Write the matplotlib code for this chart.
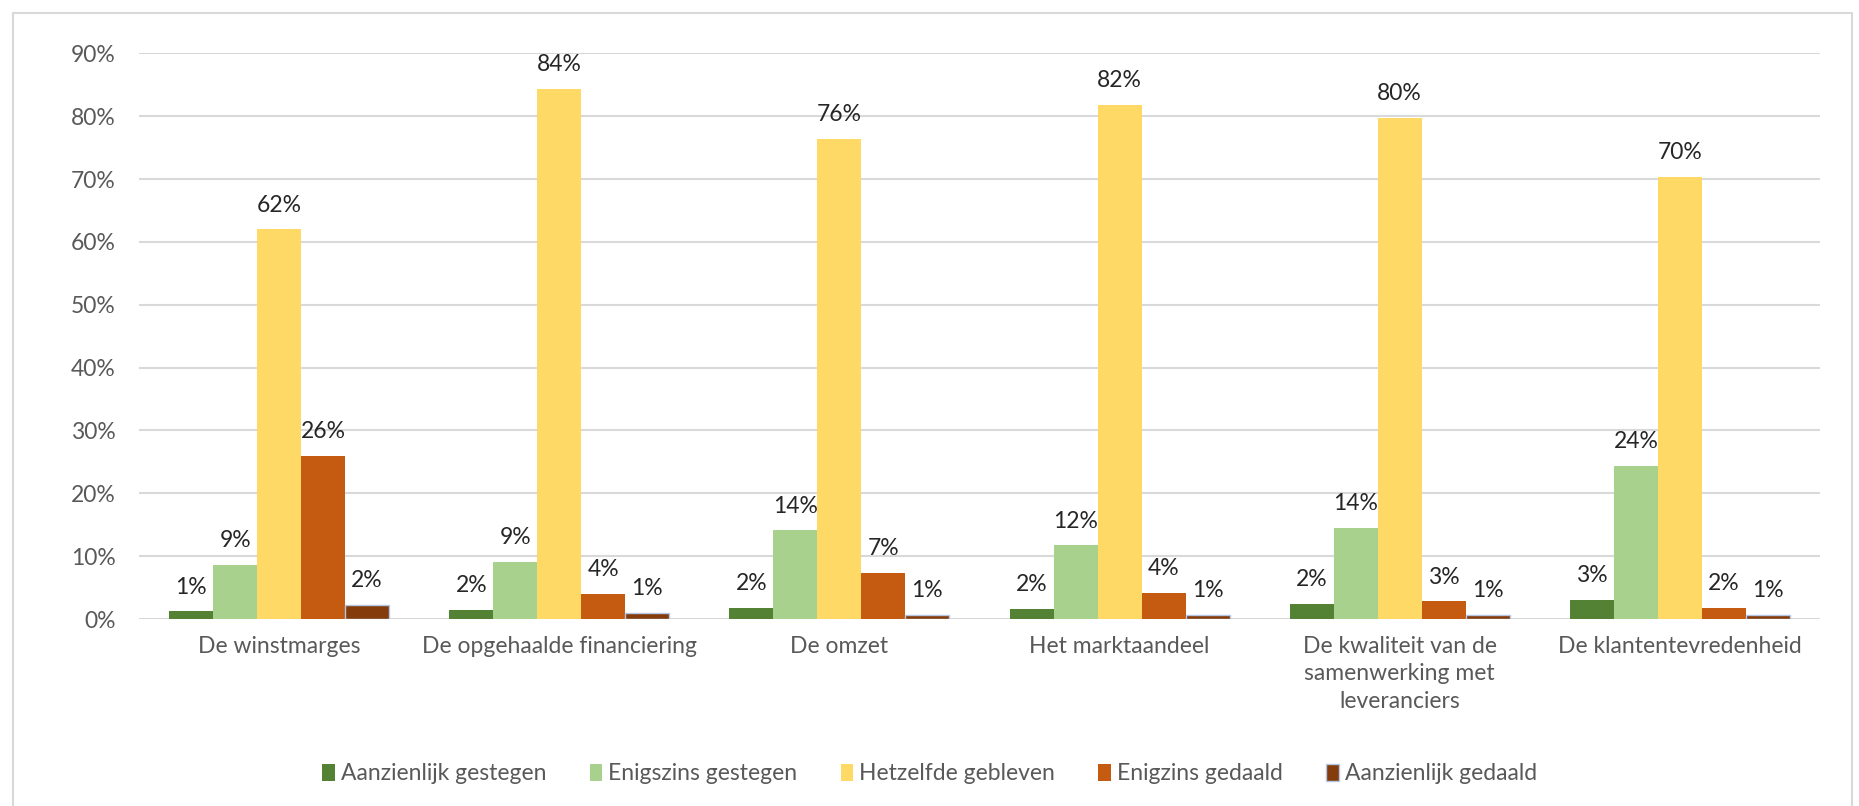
import matplotlib.pyplot as plt
import numpy as np
from matplotlib.patches import Rectangle

plt.rcParams["font.family"] = ["Lato", "DejaVu Sans"]

categories = [
    "De winstmarges",
    "De opgehaalde financiering",
    "De omzet",
    "Het marktaandeel",
    "De kwaliteit van de\nsamenwerking met\nleveranciers",
    "De klantentevredenheid",
]
series_names = [
    "Aanzienlijk gestegen",
    "Enigszins gestegen",
    "Hetzelfde gebleven",
    "Enigzins gedaald",
    "Aanzienlijk gedaald",
]
aanzienlijk_gestegen = [1.2, 1.5, 1.7, 1.6, 2.4, 3.0]
enigszins_gestegen = [8.6, 9.1, 14.1, 11.7, 14.5, 24.3]
hetzelfde_gebleven = [62.0, 84.4, 76.4, 81.8, 79.8, 70.3]
enigzins_gedaald = [26.0, 4.0, 7.4, 4.1, 2.8, 1.8]
aanzienlijk_gedaald = [2.3, 1.0, 0.6, 0.7, 0.6, 0.6]
series_values = [
    aanzienlijk_gestegen,
    enigszins_gestegen,
    hetzelfde_gebleven,
    enigzins_gedaald,
    aanzienlijk_gedaald,
]
series_labels = [
    ["1%", "2%", "2%", "2%", "2%", "3%"],
    ["9%", "9%", "14%", "12%", "14%", "24%"],
    ["62%", "84%", "76%", "82%", "80%", "70%"],
    ["26%", "4%", "7%", "4%", "3%", "2%"],
    ["2%", "1%", "1%", "1%", "1%", "1%"],
]
colors = ["#548235", "#A9D18E", "#FFD966", "#C55A11", "#843C0C"]
yticks = list(range(0, 100, 10))

fig = plt.figure(figsize=(18.59, 8.06), dpi=100)
ax = fig.add_axes([0.0748, 0.232, 0.9042, 0.7017])

# outer chart border
fig.patches.append(
    Rectangle((13 / 1859, -0.01), 1 - 20 / 1859, 1 - 13 / 806 + 0.01,
              transform=fig.transFigure, fill=False, edgecolor="#D9D9D9",
              linewidth=1.5)
)

x = np.arange(len(categories))
width = 0.157
for i, (name, vals, labs, col) in enumerate(
        zip(series_names, series_values, series_labels, colors)):
    pos = x + (i - 2) * width
    edge = "#B4C7E7" if i == 4 else "none"
    ax.bar(pos, vals, width, color=col, edgecolor=edge, linewidth=1,
           label=name, zorder=3)
    for px, v, lab in zip(pos, vals, labs):
        ax.annotate(lab, (px, v), xytext=(0, 10), textcoords="offset points",
                    ha="center", va="bottom", fontsize=16.5, color="#262626")

ax.set_xlim(-0.5, len(categories) - 0.5)
ax.set_ylim(0, 90)
ax.set_yticks(yticks)
ax.set_yticklabels([f"{t}%" for t in yticks])
ax.set_xticks(x)
ax.set_xticklabels(categories, linespacing=1.4)
ax.grid(axis="y", color="#D9D9D9", linewidth=1.5, zorder=0)
ax.tick_params(axis="y", length=0, pad=17, labelsize=16.5, labelcolor="#595959")
ax.tick_params(axis="x", length=0, pad=12, labelsize=16.5, labelcolor="#595959")
for s in ax.spines.values():
    s.set_visible(False)

ax.legend(loc="center", bbox_to_anchor=(0.5, (806 - 774) / 806),
          bbox_transform=fig.transFigure, ncol=5, frameon=False,
          fontsize=16.5, labelcolor="#595959", handlelength=0.55,
          handleheight=0.75, handletextpad=0.25, columnspacing=1.9)

fig.savefig("out.png", dpi=100)
